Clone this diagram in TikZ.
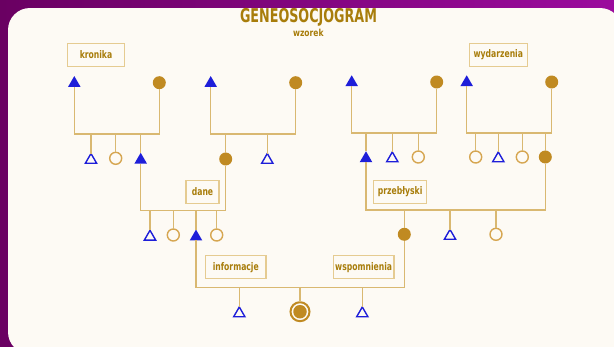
\documentclass[tikz,border=0pt]{standalone}
\usepackage{fontspec}
\setmainfont{DejaVu Sans}
\usetikzlibrary{shapes.geometric}
\definecolor{purL}{HTML}{6A0062}
\definecolor{purR}{HTML}{9B0B9D}
\definecolor{cardC}{HTML}{FDFAF4}
\definecolor{lineC}{HTML}{D9B871}
\definecolor{goldF}{HTML}{C08A22}
\definecolor{goldO}{HTML}{D6A651}
\definecolor{blueC}{HTML}{1E1ED9}
\definecolor{textC}{HTML}{A87D0B}
\definecolor{boxC}{HTML}{E5CB91}
\newcommand\lbtext[1]{\scalebox{0.73}[1]{#1}}
\tikzset{
  ln/.style={draw=lineC, line width=1.3pt},
  mfill/.style={regular polygon, regular polygon sides=3, fill=blueC, draw=none, minimum size=14.5pt, inner sep=0pt, outer sep=0pt},
  mopen/.style={regular polygon, regular polygon sides=3, draw=blueC, line width=1.4pt, fill=cardC, minimum size=13pt, inner sep=0pt, outer sep=0pt},
  ffill/.style={circle, fill=goldF, draw=none, minimum size=13pt, inner sep=0pt, outer sep=0pt},
  fopen/.style={circle, draw=goldO, line width=1.4pt, fill=cardC, minimum size=12pt, inner sep=0pt, outer sep=0pt},
  prob/.style={circle, draw=goldF, line width=2pt, fill=cardC, minimum size=19pt, inner sep=0pt, outer sep=0pt},
  lbl/.style={draw=boxC, line width=1.3pt, fill=cardC, minimum height=23pt, inner sep=0pt, text=textC, text height=8pt, text depth=2pt, font=\fontsize{10.5}{12}\selectfont\bfseries},
}
\begin{document}
\begin{tikzpicture}[x=1pt,y=-1pt]
\useasboundingbox (0,0) rectangle (614,346);
\clip (0,0) rectangle (614,346);
\shade[left color=purL,right color=purR] (0,0) rectangle (614,346);
\fill[cardC, rounded corners=22pt] (8,8) rectangle (622,354);

% titles
\node[text=textC, inner sep=0pt, font=\fontsize{19}{20}\selectfont\bfseries] (title) at (308.5,17) {\scalebox{0.67}[1]{GENEOSOCJOGRAM}};
\node[text=textC, inner sep=0pt, font=\fontsize{9.7}{11}\selectfont\bfseries] (sub) at (308.3,32.5) {\scalebox{0.78}[1]{wzorek}};

% labels
\node[lbl, minimum width=57pt] (kronika) at (96,55.3) {\lbtext{kronika}};
\node[lbl, minimum width=58pt] (wydarzenia) at (498.3,54.7) {\lbtext{wydarzenia}};
\node[lbl, minimum width=33pt] (dane) at (202.5,192.3) {\lbtext{dane}};
\node[lbl, minimum width=53pt] (przeblyski) at (400.2,191.7) {\lbtext{przebłyski}};
\node[lbl, minimum width=60.3pt] (informacje) at (235.8,267.3) {\lbtext{informacje}};
\node[lbl, minimum width=60.7pt] (wspomnienia) at (363.7,267.3) {\lbtext{wspomnienia}};

% family A
\node[mfill] (fA) at (74.3,83.3) {};
\node[ffill] (mA) at (159.3,82.7) {};
\coordinate (bA) at (116,134);
\node[mopen] (a1) at (91,160) {};
\node[fopen] (a2) at (115.7,158.3) {};
\node[mfill] (a3) at (140.7,160) {};
% family B
\node[mfill] (fB) at (210.7,83.3) {};
\node[ffill] (mB) at (295.7,82.7) {};
\coordinate (bB) at (253,134);
\node[ffill] (b1) at (225.7,159) {};
\node[mopen] (b2) at (267.3,160) {};
% family C
\node[mfill] (fC) at (351.7,82.5) {};
\node[ffill] (mC) at (436.7,82) {};
\coordinate (bC) at (394,133);
\node[mfill] (c1) at (366,158.5) {};
\node[mopen] (c2) at (392.3,158.5) {};
\node[fopen] (c3) at (418.3,157) {};
% family D
\node[mfill] (fD) at (466.7,82.5) {};
\node[ffill] (mD) at (551.7,82) {};
\coordinate (bD) at (509,133);
\node[fopen] (d1) at (475.7,157) {};
\node[mopen] (d2) at (498.3,158.5) {};
\node[fopen] (d3) at (522.3,157) {};
\node[ffill] (d4) at (545.3,157) {};
% level 2 left
\coordinate (bE) at (180,210.7);
\node[mopen] (e1) at (150,236.8) {};
\node[fopen] (e2) at (173.3,235) {};
\node[mfill] (e3) at (196,236.8) {};
\node[fopen] (e4) at (216.7,235) {};
% level 2 right
\coordinate (bG) at (450,210);
\node[ffill] (g1) at (404.3,234.3) {};
\node[mopen] (g2) at (450,236) {};
\node[fopen] (g3) at (496,234.3) {};
% level 3
\coordinate (bH) at (300,287.3);
\node[mopen] (h1) at (239.3,313.5) {};
\node[prob] (pr) at (300,311.7) {};
\node[ffill, minimum size=13.5pt] (prin) at (pr.center) {};
\node[mopen] (h3) at (362.3,313.5) {};

% connectors
\draw[ln] (fA.south) |- (bA) -| (mA.south);
\foreach \c in {a1,a2,a3} \draw[ln] (\c.north) -- (\c.north |- bA);
\draw[ln] (fB.south) |- (bB) -| (mB.south);
\foreach \c in {b1,b2} \draw[ln] (\c.north) -- (\c.north |- bB);
\draw[ln] (fC.south) |- (bC) -| (mC.south);
\foreach \c in {c1,c2,c3} \draw[ln] (\c.north) -- (\c.north |- bC);
\draw[ln] (fD.south) |- (bD) -| (mD.south);
\foreach \c in {d1,d2,d3,d4} \draw[ln] (\c.north) -- (\c.north |- bD);
\draw[ln] (a3.south) |- (bE) -| (b1.south);
\foreach \c in {e1,e2,e3,e4} \draw[ln] (\c.north) -- (\c.north |- bE);
\draw[ln] (c1.south) |- (bG) -| (d4.south);
\foreach \c in {g1,g2,g3} \draw[ln] (\c.north) -- (\c.north |- bG);
\draw[ln] (e3.south) |- (bH) -| (g1.south);
\foreach \c in {h1,pr,h3} \draw[ln] (\c.north) -- (\c.north |- bH);
\end{tikzpicture}
\end{document}
